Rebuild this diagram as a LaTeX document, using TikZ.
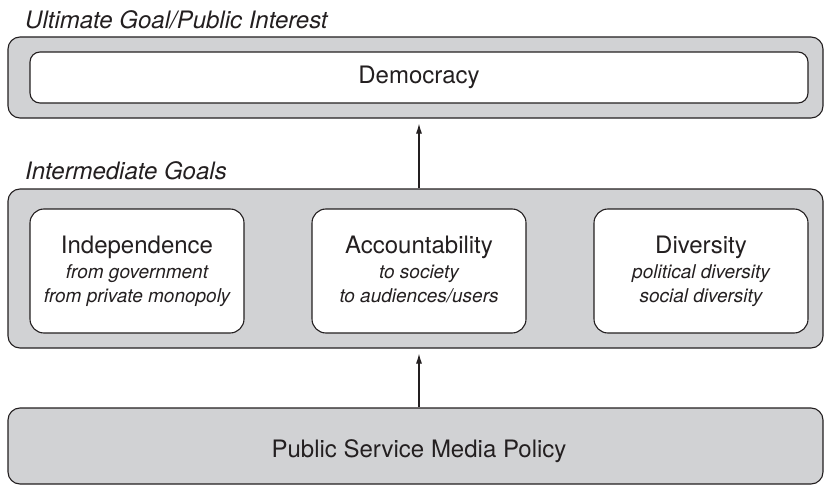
\documentclass[tikz,border=0pt]{standalone}
\usepackage{fontspec}
\setmainfont{TeX Gyre Heros}
\usetikzlibrary{arrows.meta}
\definecolor{boxgray}{RGB}{209,210,212}
\definecolor{ink}{RGB}{35,31,32}
\tikzset{
  outerbox/.style={draw=ink, fill=boxgray, line width=1.1pt, rounded corners=12pt, inner sep=0pt},
  innerbox/.style={draw=ink, fill=white, line width=1.1pt, rounded corners=12pt, inner sep=0pt},
  bigtxt/.style={text=ink, inner sep=0pt, font=\fontsize{24}{28}\selectfont},
  subtxt/.style={text=ink, inner sep=0pt, font=\fontsize{19}{23}\selectfont\itshape},
  headtxt/.style={text=ink, inner sep=0pt, anchor=base west, font=\fontsize{24}{28}\selectfont\itshape},
  arr/.style={draw=ink, line width=1.1pt, -{Latex[length=10pt,width=6pt]}, shorten >=5pt}
}
\begin{document}
\begin{tikzpicture}[x=1pt,y=-1pt]
\useasboundingbox (0,0) rectangle (825,487);
% headings
\node[headtxt] (h1) at (25,28.5) {Ultimate Goal/Public Interest};
\node[headtxt] (h2) at (25,179) {Intermediate Goals};
% top
\node[outerbox, minimum width=815pt, minimum height=81pt] (ultimate) at (415.5,77.5) {};
\node[innerbox, minimum width=778pt, minimum height=51pt, rounded corners=10pt] (demo) at (419,77.5) {};
\node[bigtxt, anchor=base] (demotxt) at (419,84) {Democracy};
% middle
\node[outerbox, minimum width=815pt, minimum height=159pt] (intermediate) at (415.5,268.5) {};
\node[innerbox, minimum width=214pt, minimum height=124pt, rounded corners=14pt] (indep) at (137,271) {};
\node[innerbox, minimum width=214pt, minimum height=124pt, rounded corners=14pt] (account) at (419,271) {};
\node[innerbox, minimum width=214pt, minimum height=124pt, rounded corners=14pt] (divers) at (701,271) {};
\node[bigtxt, anchor=base] (t1) at (137,253) {Independence};
\node[subtxt, anchor=base] (t1a) at (137,278) {from government};
\node[subtxt, anchor=base] (t1b) at (137,302) {from private monopoly};
\node[bigtxt, anchor=base] (t2) at (419,253) {Accountability};
\node[subtxt, anchor=base] (t2a) at (419,278) {to society};
\node[subtxt, anchor=base] (t2b) at (419,302) {to audiences/users};
\node[bigtxt, anchor=base] (t3) at (701,253) {Diversity};
\node[subtxt, anchor=base] (t3a) at (701,278) {political diversity};
\node[subtxt, anchor=base] (t3b) at (701,302) {social diversity};
% bottom
\node[outerbox, minimum width=815pt, minimum height=76pt] (policy) at (415.5,446) {};
\node[bigtxt, anchor=base] (policytxt) at (419,457) {Public Service Media Policy};
% arrows
\draw[arr] (account.north |- intermediate.north) -- (account.north |- ultimate.south);
\draw[arr] (account.south |- policy.north) -- (account.south |- intermediate.south);
\end{tikzpicture}
\end{document}
